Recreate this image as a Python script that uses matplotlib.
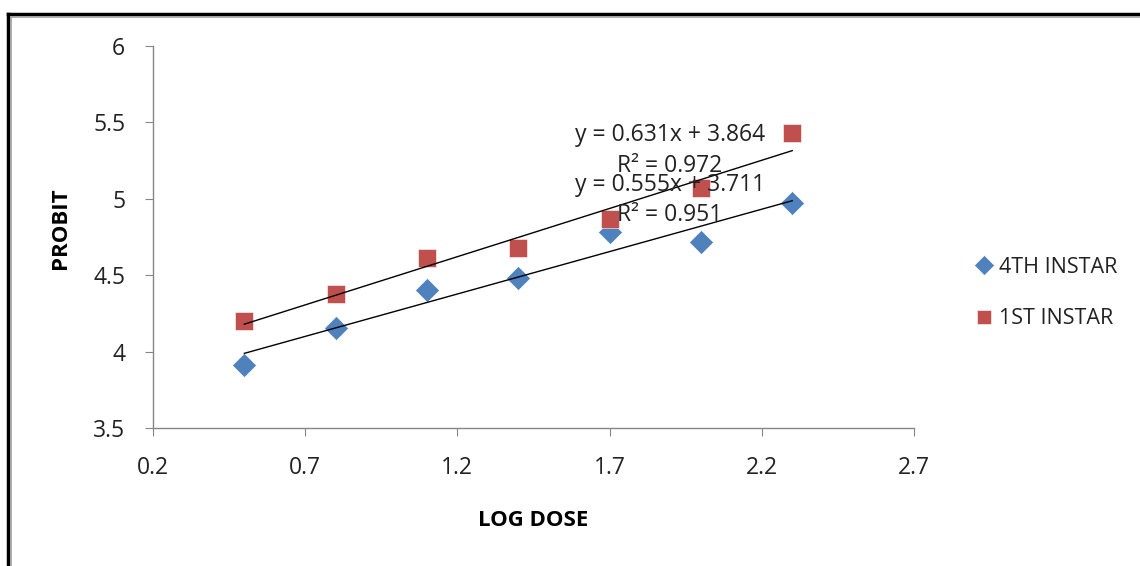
import matplotlib
matplotlib.use("Agg")
import matplotlib.pyplot as plt
from matplotlib.lines import Line2D
import numpy as np

plt.rcParams['font.family'] = ['Open Sans', 'DejaVu Sans']

log_dose = [0.5, 0.8, 1.1, 1.4, 1.7, 2.0, 2.3]
probit_4th = [3.915, 4.157, 4.406, 4.48, 4.78, 4.72, 4.97]
probit_1st = [4.20, 4.38, 4.61, 4.68, 4.87, 5.07, 5.43]
fit_4th = (0.555, 3.711)
fit_1st = (0.631, 3.864)
x_ticks = [0.2, 0.7, 1.2, 1.7, 2.2, 2.7]
y_ticks = [3.5, 4, 4.5, 5, 5.5, 6]

fig = plt.figure(figsize=(11.4, 5.66), dpi=100)
ax = fig.add_axes([153/1140, 1-428/566, (914-153)/1140, (428-46)/566])

blue = '#4F81BD'
red = '#C0504D'
txt = '#222222'
fs = 16.5

ax.plot(log_dose, probit_4th, linestyle='none', marker='D', ms=12.5,
        color=blue, markeredgecolor='white', markeredgewidth=0.4, label='4TH INSTAR', zorder=3)
ax.plot(log_dose, probit_1st, linestyle='none', marker='s', ms=13,
        color=red, markeredgecolor='white', markeredgewidth=0.4, label='1ST INSTAR', zorder=3)

xs = np.array([log_dose[0], log_dose[-1]])
ax.plot(xs, fit_4th[0]*xs + fit_4th[1], color='black', lw=1.0, zorder=4)
ax.plot(xs, fit_1st[0]*xs + fit_1st[1], color='black', lw=1.0, zorder=4)

ax.set_xlim(x_ticks[0], x_ticks[-1])
ax.set_ylim(y_ticks[0], y_ticks[-1])
ax.set_xticks(x_ticks)
ax.set_xticklabels([f"{v:g}" for v in x_ticks])
ax.set_yticks(y_ticks)
ax.set_yticklabels([f"{v:g}" for v in y_ticks])

for s in ['top', 'right']:
    ax.spines[s].set_visible(False)
for s in ['left', 'bottom']:
    ax.spines[s].set_color('#868686')
    ax.spines[s].set_linewidth(1.0)
ax.tick_params(axis='both', direction='out', length=6, color='#868686',
               labelsize=fs, labelcolor=txt)
ax.tick_params(axis='x', pad=14)
ax.tick_params(axis='y', pad=14)

ax.text(1.898, 5.418, 'y = 0.631x + 3.864', ha='center', va='center', fontsize=fs, color=txt, zorder=5)
ax.text(1.898, 5.215, 'R² = 0.972', ha='center', va='center', fontsize=fs, color=txt, zorder=5)
ax.text(1.898, 5.09, 'y = 0.555x + 3.711', ha='center', va='center', fontsize=fs, color=txt, zorder=5)
ax.text(1.898, 4.894, 'R² = 0.951', ha='center', va='center', fontsize=fs, color=txt, zorder=5)

fig.text(533/1140, 1-521/566, 'LOG DOSE', ha='center', va='center', fontsize=16, fontweight='bold')
fig.text(60/1140, 1-228/566, 'PROBIT', ha='center', va='center', rotation=90, fontsize=16, fontweight='bold')

leg = fig.legend(loc='center left', bbox_to_anchor=(957/1140, 1-293/566), frameon=False,
                 fontsize=15.5, labelspacing=1.4, handlelength=0.7, handletextpad=0.35,
                 markerscale=0.8)
for t in leg.get_texts():
    t.set_color(txt)

# outer frame
fig.add_artist(Line2D([8/1140, 1], [1-14/566, 1-14/566], color='black', lw=2.5, transform=fig.transFigure))
fig.add_artist(Line2D([8/1140, 8/1140], [0, 1-14/566], color='black', lw=2.5, transform=fig.transFigure))
fig.add_artist(Line2D([11/1140, 1], [1-17/566, 1-17/566], color='#A0A0A0', lw=1.2, transform=fig.transFigure))
fig.add_artist(Line2D([11/1140, 11/1140], [0, 1-17/566], color='#A0A0A0', lw=1.2, transform=fig.transFigure))

fig.savefig('out.png', dpi=100)
